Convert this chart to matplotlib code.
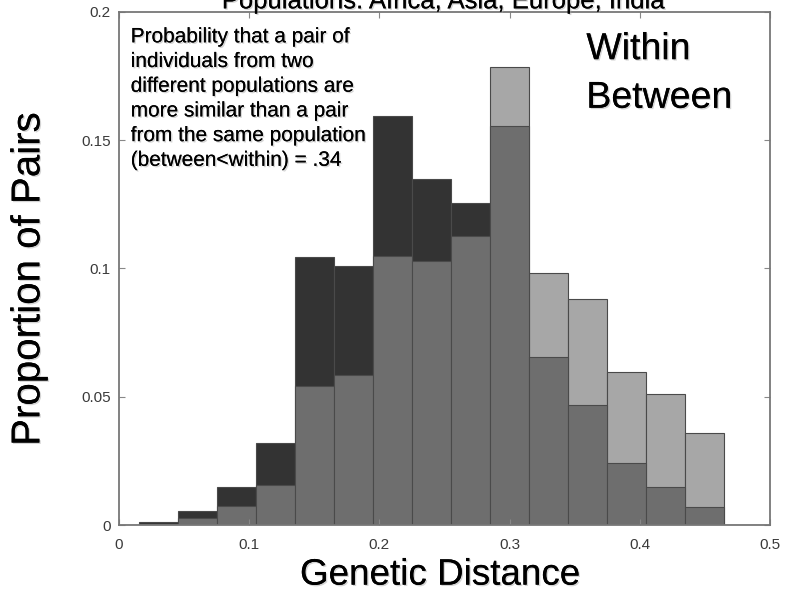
import numpy as np
import matplotlib
matplotlib.use("Agg")
import matplotlib.pyplot as plt
import matplotlib.patheffects as pe

plt.rcParams['font.family'] = ['Liberation Sans', 'DejaVu Sans']

# bin centres of the two histograms (genetic distance)
bin_centers = [0.00, 0.03, 0.06, 0.09, 0.12, 0.15, 0.18, 0.21, 0.24,
               0.27, 0.30, 0.33, 0.36, 0.39, 0.42, 0.45, 0.48, 0.51]
# proportion of pairs, within populations
within = [0.0, 0.0013, 0.0053, 0.0149, 0.0321, 0.1046, 0.1011, 0.1595, 0.1349,
          0.1257, 0.1556, 0.0654, 0.0468, 0.024, 0.015, 0.007, 0.0, 0.0]
# proportion of pairs, between populations
between = [0.0, 0.0005, 0.0027, 0.0073, 0.0156, 0.0543, 0.0584, 0.1047, 0.103,
           0.1128, 0.1784, 0.0984, 0.0882, 0.0596, 0.051, 0.0359, 0.0, 0.0]
xticks = [0, 0.1, 0.2, 0.3, 0.4, 0.5]
xtick_labels = ['0', '0.1', '0.2', '0.3', '0.4', '0.5']
yticks = [0, 0.05, 0.1, 0.15, 0.2]
ytick_labels = ['0', '0.05', '0.1', '0.15', '0.2']

DARK = '#333333'
LIGHT = '#a7a7a7'
MID = '#6e6e6e'
EDGE = '#4a4a4a'

w = np.array(within)
b = np.array(between)
top = np.maximum(w, b)
overlap = np.minimum(w, b)
top_colors = [DARK if wi >= bi else LIGHT for wi, bi in zip(w, b)]

fig = plt.figure(figsize=(7.88, 5.96), dpi=100)
ax = fig.add_axes([0.151, 0.119, 0.826, 0.861])

ax.bar(bin_centers, top, width=0.03, color=top_colors, edgecolor=EDGE, linewidth=0.8)
ax.bar(bin_centers, overlap, width=0.03, color=MID, edgecolor=EDGE, linewidth=0.8)

ax.set_xlim(0, 0.5)
ax.set_ylim(0, 0.2)
ax.set_xticks(xticks)
ax.set_xticklabels(xtick_labels)
ax.set_yticks(yticks)
ax.set_yticklabels(ytick_labels)
ax.tick_params(axis='both', labelsize=11, labelcolor='#3a3a3a', color='#888888',
               length=4, direction='in', top=True, right=True)
ax.tick_params(axis='x', pad=9)
ax.tick_params(axis='y', pad=6)
for s in ax.spines.values():
    s.set_color('#777777')
    s.set_linewidth(1.3)

shadow = [pe.withSimplePatchShadow(offset=(1, -1), shadow_rgbFace='#aaaaaa', alpha=0.5), pe.Normal()]

fig.text(0.563, 0.986, 'Populations: Africa, Asia, Europe, India', ha='center', va='baseline',
         fontsize=18.5, path_effects=shadow)
fig.text(0.036, 0.532, 'Proportion of Pairs', rotation=90, ha='center', va='center',
         fontsize=29, path_effects=shadow)
fig.text(0.558, 0.035, 'Genetic Distance', ha='center', va='center',
         fontsize=26.5, path_effects=shadow)

ax.text(0.009, 0.194, 'Probability that a pair of\nindividuals from two\ndifferent populations are\n'
        'more similar than a pair\nfrom the same population\n(between<within) = .34',
        ha='left', va='top', fontsize=15, linespacing=1.38, path_effects=shadow)
ax.text(0.359, 0.1925, 'Within\nBetween', ha='left', va='top', fontsize=27,
        linespacing=1.45, path_effects=shadow)

fig.savefig('out.png', dpi=100)
